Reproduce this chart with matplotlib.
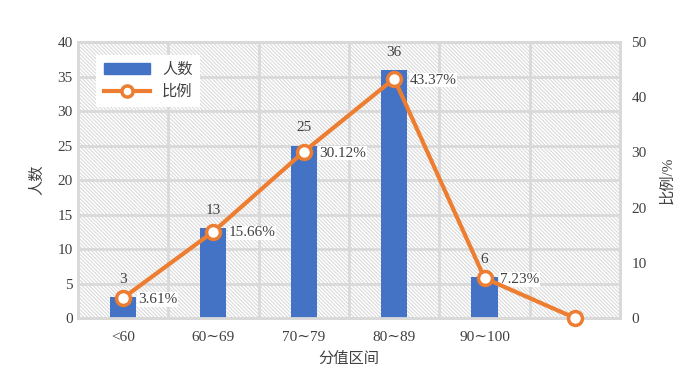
import matplotlib
matplotlib.use("Agg")
import matplotlib.pyplot as plt
from matplotlib.patches import Rectangle
from matplotlib.lines import Line2D
import numpy as np

categories = ["<60", "60∼69", "70∼79", "80∼89", "90∼100", ""]
counts = [3, 13, 25, 36, 6, None]
ratios = [3.61, 15.66, 30.12, 43.37, 7.23, 0]
ratio_labels = ["3.61%", "15.66%", "30.12%", "43.37%", "7.23%", None]

FAM = ["Liberation Serif", "DejaVu Serif", "Noto Sans CJK SC"]
plt.rcParams["font.family"] = FAM
plt.rcParams["hatch.linewidth"] = 0.8

BLUE = "#4472C4"
ORANGE = "#ED7D31"
GRID = "#d9d9d9"
TXT = "#404040"
FS = 11

fig = plt.figure(figsize=(7, 3.72), dpi=100)
ax = fig.add_axes([0.111, 0.145, 0.775, 0.742])
ax2 = ax.twinx()

x = np.arange(len(categories))

# hatched background
bg = Rectangle((0, 0), 1, 1, transform=ax.transAxes, facecolor="white",
               edgecolor="#dadada", hatch="\\" * 9, lw=0, zorder=0)
ax.add_patch(bg)

bx = [xi for xi, c in zip(x, counts) if c is not None]
bv = [c for c in counts if c is not None]
ax.bar(bx, bv, width=0.29, color=BLUE, zorder=3)
for xi, c in zip(bx, bv):
    ax.annotate(str(c), (xi, c), xytext=(0, 8), textcoords="offset points",
                ha="center", va="bottom", fontsize=FS, color=TXT, zorder=5)

ax.set_xlim(-0.5, len(categories) - 0.5)
ax.set_ylim(0, 40)
ax.set_yticks(np.arange(0, 41, 5))
ax.set_xticks(x)
ax.set_xticklabels(categories)
ax.set_xticks(np.arange(-0.5, len(categories), 1), minor=True)
ax.grid(axis="y", color=GRID, lw=2, zorder=1)
ax.grid(axis="x", which="minor", color=GRID, lw=2, zorder=1)
ax.tick_params(which="both", length=0, labelsize=FS, colors=TXT)
ax.tick_params(axis="x", pad=9)
ax.set_axisbelow(True)

ax2.plot(x, ratios, color=ORANGE, lw=3, marker="o", ms=10,
         mfc="white", mec=ORANGE, mew=2.5, zorder=4, clip_on=False)
for xi, r, lab in zip(x, ratios, ratio_labels):
    if lab:
        ax2.annotate(lab, (xi, r), xytext=(11, -1), textcoords="offset points",
                     ha="left", va="center", fontsize=FS, color=TXT,
                     bbox=dict(facecolor="white", edgecolor="none", pad=0.5))
ax2.set_ylim(0, 50)
ax2.set_yticks(np.arange(0, 51, 10))
ax2.tick_params(length=0, labelsize=FS, colors=TXT, pad=8)

for a in (ax, ax2):
    for s in a.spines.values():
        s.set_color(GRID)
        s.set_linewidth(2)

ax.set_ylabel("人数", fontsize=FS, color=TXT, labelpad=10)
ax2.set_ylabel("比例/%", fontsize=FS, color=TXT, labelpad=10)
ax.set_xlabel("分值区间", fontsize=FS, color=TXT, labelpad=6)

handles = [Rectangle((0, 0), 1, 1, color=BLUE),
           Line2D([], [], color=ORANGE, lw=3, marker="o", ms=8, mfc="white", mec=ORANGE, mew=2.5)]
leg = ax2.legend(handles, ["人数", "比例"], loc="upper left", bbox_to_anchor=(0.02, 0.98),
                 frameon=True, fancybox=False, edgecolor="none", facecolor="white",
                 framealpha=1, fontsize=FS, handlelength=3, labelspacing=0.5, borderpad=0.5)
for t in leg.get_texts():
    t.set_color(TXT)

fig.savefig("out.png", dpi=100)
